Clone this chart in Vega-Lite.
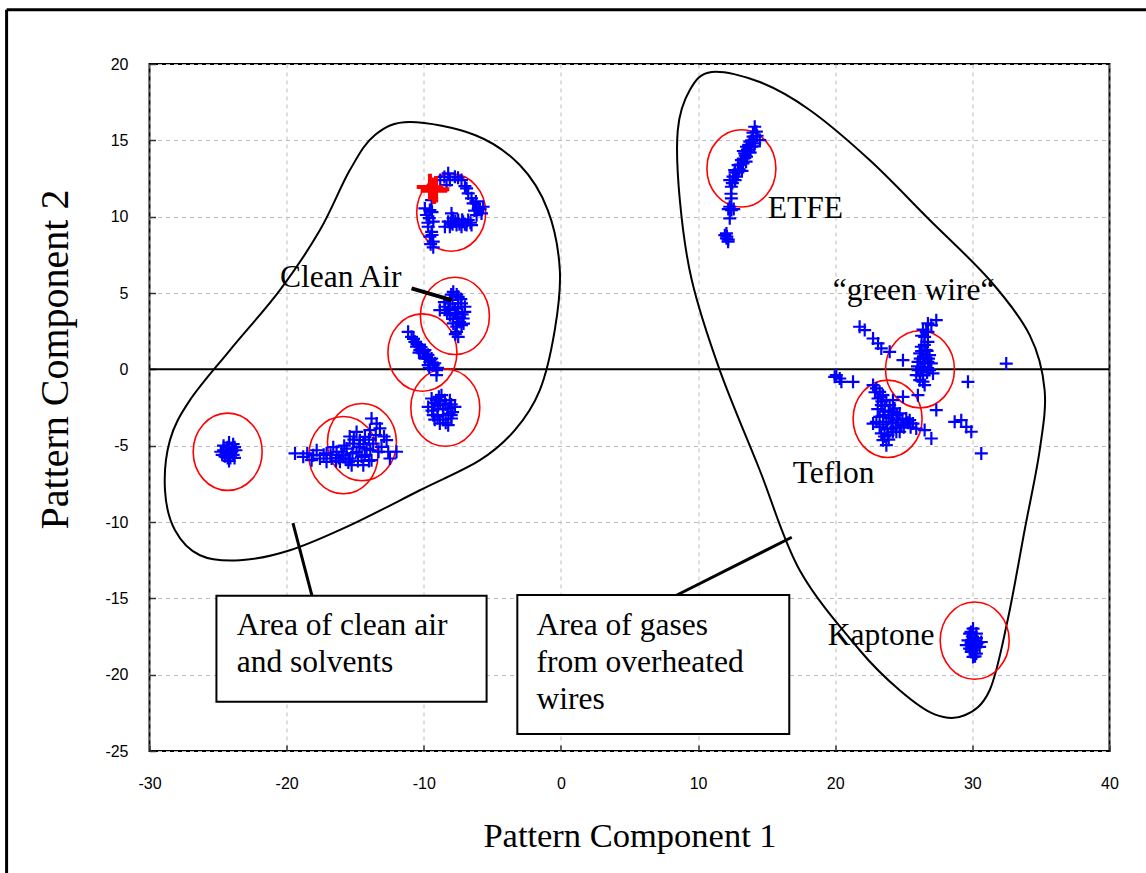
{
  "$schema": "https://vega.github.io/schema/vega-lite/v6.json",
  "width": 960,
  "height": 687,
  "autosize": "none",
  "padding": {"left": 149.5, "top": 64, "right": 36.5, "bottom": 122},
  "background": "white",
  "config": {
    "view": {"stroke": "black", "strokeWidth": 2},
    "axis": {
      "grid": true, "gridDash": [4, 4], "gridColor": "#bdbdbd", "gridWidth": 1,
      "domain": false, "tickSize": -6, "tickColor": "#333333", "tickWidth": 1.5,
      "labelFont": "Liberation Sans", "labelFontSize": 16, "labelColor": "black",
      "labelFlush": false, "labelOverlap": false,
      "labelExpr": "replace(datum.label, '−', '-')",
      "titleFont": "Liberation Serif", "titleFontWeight": "normal", "titleColor": "black"
    }
  },
  "datasets": {
    "blue": [
      {"x":-24.6,"y":-5.0},{"x":-24.2,"y":-4.8},{"x":-23.8,"y":-5.1},{"x":-24.8,"y":-5.4},{"x":-24.4,"y":-5.3},{"x":-24.0,"y":-5.4},{"x":-23.7,"y":-5.3},{"x":-24.5,"y":-5.7},{"x":-24.1,"y":-5.8},{"x":-23.9,"y":-5.6},{"x":-24.3,"y":-5.1},{"x":-24.2,"y":-6.0},
      {"x":-24.4,"y":-5.5},{"x":-24.0,"y":-5.2},{"x":-24.6,"y":-5.3},{"x":-23.9,"y":-4.9},{"x":-24.3,"y":-5.8},{"x":-24.7,"y":-5.6},{"x":-23.8,"y":-5.8},
      {"x":-19.39,"y":-5.51},{"x":-18.79,"y":-5.73},{"x":-18.06,"y":-5.62},{"x":-17.57,"y":-5.84},{"x":-17.81,"y":-5.30},{"x":-17.09,"y":-5.51},{"x":-16.72,"y":-5.84},{"x":-16.36,"y":-5.40},{"x":-15.87,"y":-5.62},{"x":-15.63,"y":-5.19},{"x":-15.39,"y":-5.84},{"x":-15.14,"y":-4.86},{"x":-14.90,"y":-5.40},{"x":-14.66,"y":-4.64},{"x":-14.54,"y":-5.73},{"x":-14.29,"y":-4.42},{"x":-14.17,"y":-5.19},{"x":-13.93,"y":-3.98},{"x":-13.81,"y":-3.22},{"x":-13.44,"y":-3.55},{"x":-13.20,"y":-3.87},{"x":-13.81,"y":-5.95},{"x":-13.69,"y":-4.86},{"x":-13.08,"y":-5.08},{"x":-12.71,"y":-4.64},{"x":-12.59,"y":-5.40},{"x":-11.99,"y":-5.40},{"x":-12.47,"y":-5.84},{"x":-16.11,"y":-6.06},{"x":-17.09,"y":-6.06},{"x":-18.18,"y":-5.95},{"x":-15.26,"y":-6.28},{"x":-14.41,"y":-6.28},{"x":-15.4,"y":-4.4},{"x":-14.9,"y":-4.1},{"x":-16.6,"y":-5.1},{"x":-14.0,"y":-6.0},
      {"x":-16.8,"y":-5.6},{"x":-16.2,"y":-5.8},{"x":-15.7,"y":-5.9},{"x":-15.2,"y":-5.5},{"x":-14.7,"y":-5.1},{"x":-14.3,"y":-5.6},{"x":-13.9,"y":-5.3},{"x":-15.8,"y":-5.0},{"x":-15.1,"y":-4.6},{"x":-14.4,"y":-4.9},{"x":-16.4,"y":-6.0},{"x":-17.3,"y":-5.6},{"x":-18.5,"y":-5.5},{"x":-13.5,"y":-4.3},{"x":-14.0,"y":-4.6},{"x":-13.3,"y":-5.4},{"x":-12.9,"y":-4.4},{"x":-15.5,"y":-6.1},{"x":-14.8,"y":-6.0},{"x":-16.0,"y":-5.4},
      {"x":-11.14,"y":2.46},{"x":-10.89,"y":2.13},{"x":-10.65,"y":1.80},{"x":-10.41,"y":1.59},{"x":-10.29,"y":1.26},{"x":-10.04,"y":1.04},{"x":-9.80,"y":0.82},{"x":-9.56,"y":0.49},{"x":-9.31,"y":0.28},{"x":-9.07,"y":-0.05},{"x":-10.53,"y":1.48},{"x":-9.92,"y":1.26},{"x":-9.43,"y":0.71},{"x":-9.07,"y":-0.38},{"x":-9.68,"y":0.28},
      {"x":-10.75,"y":2.0},{"x":-10.5,"y":1.65},{"x":-10.2,"y":1.45},{"x":-10.0,"y":1.2},{"x":-9.7,"y":0.95},{"x":-9.5,"y":0.65},{"x":-9.2,"y":0.4},{"x":-9.0,"y":0.1},{"x":-9.9,"y":0.7},{"x":-9.6,"y":0.1},{"x":-10.35,"y":1.1},
      {"x":-7.85,"y":5.08},{"x":-7.49,"y":4.75},{"x":-8.10,"y":4.54},{"x":-7.25,"y":4.32},{"x":-8.46,"y":4.10},{"x":-7.73,"y":3.99},{"x":-7.01,"y":3.77},{"x":-8.10,"y":3.55},{"x":-7.49,"y":3.44},{"x":-7.85,"y":3.01},{"x":-7.25,"y":2.90},{"x":-7.61,"y":2.46},{"x":-8.83,"y":3.88},{"x":-7.13,"y":3.33},{"x":-7.49,"y":2.13},
      {"x":-7.6,"y":4.9},{"x":-8.0,"y":4.9},{"x":-7.3,"y":4.6},{"x":-7.9,"y":4.3},{"x":-7.5,"y":4.1},{"x":-8.2,"y":3.9},{"x":-7.0,"y":4.1},{"x":-7.6,"y":3.7},{"x":-7.2,"y":3.6},{"x":-7.9,"y":3.3},{"x":-7.4,"y":3.1},{"x":-7.6,"y":2.8},{"x":-7.7,"y":2.3},{"x":-8.3,"y":3.7},{"x":-7.1,"y":3.0},{"x":-8.5,"y":4.4},
      {"x":-9.43,"y":-1.91},{"x":-8.71,"y":-1.69},{"x":-8.10,"y":-2.02},{"x":-9.68,"y":-2.46},{"x":-8.95,"y":-2.35},{"x":-8.22,"y":-2.56},{"x":-7.73,"y":-2.46},{"x":-9.31,"y":-3.00},{"x":-8.58,"y":-3.00},{"x":-7.98,"y":-3.22},{"x":-8.83,"y":-3.55},{"x":-8.22,"y":-3.66},{"x":-9.07,"y":-2.02},{"x":-8.46,"y":-2.02},
      {"x":-9.2,"y":-2.2},{"x":-8.8,"y":-2.1},{"x":-8.4,"y":-2.3},{"x":-8.0,"y":-2.3},{"x":-9.4,"y":-2.7},{"x":-9.0,"y":-2.6},{"x":-8.6,"y":-2.6},{"x":-8.2,"y":-2.9},{"x":-7.9,"y":-2.8},{"x":-9.0,"y":-3.1},{"x":-8.6,"y":-3.3},{"x":-8.4,"y":-3.5},{"x":-9.2,"y":-3.3},{"x":-8.0,"y":-3.0},{"x":-8.9,"y":-1.8},
      {"x":-9.43,"y":11.09},{"x":-9.56,"y":10.43},{"x":-9.80,"y":10.11},{"x":-9.31,"y":9.67},{"x":-9.68,"y":9.34},{"x":-9.43,"y":9.01},{"x":-9.56,"y":8.69},{"x":-9.31,"y":8.36},{"x":-9.31,"y":7.99},{"x":-9.92,"y":10.54},
      {"x":-8.22,"y":12.84},{"x":-8.10,"y":12.40},{"x":-8.34,"y":12.07},{"x":-7.73,"y":12.62},{"x":-7.25,"y":12.40},{"x":-8.8,"y":12.4},
      {"x":-6.88,"y":11.85},{"x":-6.76,"y":11.52},{"x":-6.52,"y":11.20},{"x":-6.40,"y":10.87},{"x":-6.03,"y":10.54},{"x":-5.67,"y":10.65},{"x":-5.79,"y":10.21},{"x":-6.15,"y":10.10},
      {"x":-8.22,"y":9.67},{"x":-7.86,"y":9.89},{"x":-7.49,"y":9.78},{"x":-7.13,"y":9.67},{"x":-6.76,"y":9.78},{"x":-7.61,"y":9.45},{"x":-7.25,"y":9.34},{"x":-8.10,"y":9.34},{"x":-7.98,"y":10.21},{"x":-6.52,"y":9.45},{"x":-8.46,"y":9.34},{"x":-6.88,"y":9.45},
      {"x":-9.6,"y":9.9},{"x":-9.4,"y":10.3},{"x":-9.7,"y":9.6},{"x":-9.4,"y":8.8},{"x":-9.5,"y":8.2},{"x":-7.9,"y":9.5},{"x":-7.4,"y":9.5},{"x":-7.0,"y":9.5},{"x":-6.6,"y":9.6},{"x":-7.7,"y":9.7},{"x":-7.2,"y":9.8},{"x":-8.0,"y":9.6},{"x":-6.3,"y":10.4},{"x":-6.2,"y":11.0},{"x":-7.0,"y":12.0},{"x":-7.5,"y":12.55},{"x":-8.5,"y":12.6},{"x":-5.9,"y":10.5},
      {"x":14.13,"y":15.89},{"x":14.25,"y":15.57},{"x":14.01,"y":15.24},{"x":13.77,"y":14.91},{"x":13.53,"y":14.58},{"x":13.89,"y":14.58},{"x":13.40,"y":14.15},{"x":13.65,"y":14.26},{"x":13.16,"y":13.71},{"x":12.92,"y":13.38},{"x":13.28,"y":13.49},{"x":12.67,"y":13.05},{"x":12.55,"y":12.62},{"x":12.31,"y":12.40},{"x":12.80,"y":12.62},{"x":12.43,"y":11.96},{"x":12.43,"y":11.20},{"x":12.31,"y":10.65},{"x":12.43,"y":10.43},{"x":12.31,"y":9.89},{"x":12.07,"y":8.90},{"x":12.07,"y":8.58},{"x":11.95,"y":8.79},{"x":12.19,"y":8.36},{"x":14.50,"y":15.02},{"x":14.13,"y":14.80},{"x":13.53,"y":13.93},
      {"x":12.5,"y":12.2},{"x":12.7,"y":12.9},{"x":12.9,"y":12.9},{"x":13.0,"y":13.1},{"x":13.1,"y":13.4},{"x":13.3,"y":13.8},{"x":13.45,"y":14.0},{"x":13.6,"y":14.4},{"x":13.7,"y":14.7},{"x":13.9,"y":15.0},{"x":14.0,"y":15.5},{"x":14.3,"y":15.3},{"x":13.8,"y":14.2},{"x":13.5,"y":13.6},{"x":13.2,"y":13.0},{"x":12.7,"y":12.4},{"x":12.4,"y":11.5},{"x":12.6,"y":10.5},{"x":12.2,"y":10.5},{"x":12.1,"y":8.7},{"x":12.2,"y":8.5},{"x":14.1,"y":14.6},{"x":13.3,"y":14.3},
      {"x":21.78,"y":2.79},{"x":22.15,"y":2.57},{"x":22.76,"y":2.02},{"x":23.12,"y":1.70},{"x":23.36,"y":1.37},{"x":23.97,"y":1.15},{"x":24.94,"y":0.60},{"x":27.37,"y":3.22},{"x":27.01,"y":2.90},{"x":26.76,"y":2.46},{"x":32.47,"y":0.38},{"x":20.08,"y":-0.38},{"x":20.33,"y":-0.60},{"x":20.45,"y":-0.82},{"x":21.30,"y":-0.82},{"x":19.96,"y":-0.49},{"x":29.68,"y":-0.82},{"x":27.13,"y":-0.27},{"x":27.37,"y":-2.67},{"x":28.71,"y":-3.44},{"x":29.19,"y":-3.33},{"x":29.56,"y":-3.77},{"x":29.92,"y":-4.09},{"x":30.65,"y":-5.51},{"x":26.52,"y":-3.98},{"x":27.01,"y":-4.53},{"x":24.94,"y":-1.80},{"x":26.03,"y":-1.69},{"x":22.76,"y":-3.55},{"x":24.70,"y":-4.09},{"x":25.43,"y":-3.33},
      {"x":26.76,"y":3.01},{"x":26.64,"y":2.46},{"x":26.52,"y":2.13},{"x":26.76,"y":1.80},{"x":26.28,"y":1.48},{"x":26.64,"y":1.26},{"x":26.16,"y":1.04},{"x":26.88,"y":0.93},{"x":26.40,"y":0.71},{"x":26.04,"y":0.49},{"x":26.76,"y":0.49},{"x":26.52,"y":0.17},{"x":26.04,"y":-0.05},{"x":26.88,"y":-0.05},{"x":26.40,"y":-0.38},{"x":26.16,"y":-0.71},{"x":26.52,"y":-1.03},{"x":25.91,"y":-0.38},{"x":27.01,"y":0.39},
      {"x":26.3,"y":2.2},{"x":26.5,"y":1.6},{"x":26.3,"y":1.2},{"x":26.6,"y":0.9},{"x":26.2,"y":0.7},{"x":26.5,"y":0.4},{"x":26.3,"y":0.1},{"x":26.7,"y":-0.2},{"x":26.2,"y":-0.4},{"x":26.4,"y":-0.8},{"x":26.7,"y":1.2},{"x":26.4,"y":2.6},{"x":26.8,"y":0.7},{"x":26.0,"y":0.2},
      {"x":22.76,"y":-1.03},{"x":23.00,"y":-1.25},{"x":23.24,"y":-1.47},{"x":23.48,"y":-1.69},{"x":23.12,"y":-1.91},{"x":23.73,"y":-2.02},{"x":23.36,"y":-2.35},{"x":23.97,"y":-2.35},{"x":24.33,"y":-2.56},{"x":23.61,"y":-2.78},{"x":24.70,"y":-2.89},{"x":24.09,"y":-3.00},{"x":23.24,"y":-3.11},{"x":25.18,"y":-3.22},{"x":24.46,"y":-3.33},{"x":23.73,"y":-3.44},{"x":25.67,"y":-3.55},{"x":24.82,"y":-3.66},{"x":23.24,"y":-3.77},{"x":24.09,"y":-3.88},{"x":25.91,"y":-3.88},{"x":23.36,"y":-4.20},{"x":23.85,"y":-4.31},{"x":24.46,"y":-4.09},{"x":23.48,"y":-4.64},{"x":23.73,"y":-4.97},{"x":23.00,"y":-3.44},{"x":24.21,"y":-2.02},
      {"x":23.3,"y":-1.8},{"x":23.6,"y":-2.4},{"x":23.9,"y":-2.7},{"x":24.2,"y":-2.8},{"x":24.5,"y":-3.0},{"x":24.9,"y":-3.3},{"x":25.3,"y":-3.5},{"x":23.5,"y":-3.0},{"x":23.9,"y":-3.2},{"x":24.2,"y":-3.5},{"x":24.6,"y":-3.5},{"x":25.0,"y":-3.8},{"x":23.5,"y":-3.6},{"x":23.8,"y":-3.9},{"x":24.2,"y":-4.1},{"x":23.6,"y":-4.4},{"x":23.9,"y":-4.6},{"x":24.4,"y":-3.8},{"x":23.1,"y":-2.6},{"x":25.5,"y":-3.8},{"x":23.4,"y":-2.1},{"x":22.9,"y":-1.5},
      {"x":30.05,"y":-16.98},{"x":29.80,"y":-17.31},{"x":30.29,"y":-17.31},{"x":29.68,"y":-17.75},{"x":30.17,"y":-17.75},{"x":30.65,"y":-17.86},{"x":29.56,"y":-18.07},{"x":30.05,"y":-18.18},{"x":30.53,"y":-18.18},{"x":29.92,"y":-18.51},{"x":30.29,"y":-18.62},{"x":30.05,"y":-18.84},
      {"x":30.0,"y":-17.5},{"x":30.3,"y":-17.6},{"x":29.9,"y":-17.9},{"x":30.3,"y":-18.0},{"x":30.1,"y":-18.4},{"x":29.8,"y":-18.3},{"x":30.4,"y":-17.9},{"x":29.9,"y":-17.2},{"x":30.2,"y":-18.8}
    ],
    "red": [
      {"x":-9.26,"y":11.7},{"x":-9.55,"y":11.95},{"x":-9.1,"y":11.8}
    ],
    "circles": [
      {"x":-8.0,"y":10.27},{"x":-7.73,"y":3.5},{"x":-10.1,"y":1.1},{"x":-8.43,"y":-2.51},{"x":-24.3,"y":-5.4},{"x":-15.86,"y":-5.62},{"x":-14.51,"y":-4.77},{"x":13.16,"y":13.16},{"x":26.18,"y":0.0},{"x":23.82,"y":-3.24},{"x":30.17,"y":-17.77}
    ],
    "outline": [
      {"shape":"L","i":0,"x":-11.01,"y":16.20},{"shape":"L","i":1,"x":-6.28,"y":15.35},{"shape":"L","i":2,"x":-3.00,"y":13.38},{"shape":"L","i":3,"x":-0.96,"y":10.43},{"shape":"L","i":4,"x":-0.08,"y":6.50},{"shape":"L","i":5,"x":-0.45,"y":2.57},{"shape":"L","i":6,"x":-1.54,"y":-1.36},{"shape":"L","i":7,"x":-3.36,"y":-3.98},{"shape":"L","i":8,"x":-5.91,"y":-5.95},{"shape":"L","i":9,"x":-10.28,"y":-7.92},{"shape":"L","i":10,"x":-15.39,"y":-10.22},{"shape":"L","i":11,"x":-19.76,"y":-11.85},{"shape":"L","i":12,"x":-23.40,"y":-12.51},{"shape":"L","i":13,"x":-26.32,"y":-12.18},{"shape":"L","i":14,"x":-28.14,"y":-10.54},{"shape":"L","i":15,"x":-28.87,"y":-7.92},{"shape":"L","i":16,"x":-28.51,"y":-4.64},{"shape":"L","i":17,"x":-27.05,"y":-2.02},{"shape":"L","i":18,"x":-24.13,"y":1.26},{"shape":"L","i":19,"x":-20.49,"y":5.19},{"shape":"L","i":20,"x":-17.57,"y":9.12},{"shape":"L","i":21,"x":-15.39,"y":13.05},{"shape":"L","i":22,"x":-13.56,"y":15.35},
      {"shape":"R","i":0,"x":11.00,"y":19.48},{"shape":"R","i":1,"x":14.50,"y":18.82},{"shape":"R","i":2,"x":18.14,"y":16.99},{"shape":"R","i":3,"x":22.51,"y":13.71},{"shape":"R","i":4,"x":26.89,"y":9.78},{"shape":"R","i":5,"x":31.26,"y":5.85},{"shape":"R","i":6,"x":34.18,"y":2.24},{"shape":"R","i":7,"x":35.27,"y":-1.36},{"shape":"R","i":8,"x":34.91,"y":-5.29},{"shape":"R","i":9,"x":33.81,"y":-10.54},{"shape":"R","i":10,"x":32.57,"y":-16.44},{"shape":"R","i":11,"x":31.26,"y":-21.02},{"shape":"R","i":12,"x":29.44,"y":-22.66},{"shape":"R","i":13,"x":27.25,"y":-22.60},{"shape":"R","i":14,"x":24.70,"y":-21.02},{"shape":"R","i":15,"x":21.79,"y":-18.40},{"shape":"R","i":16,"x":17.41,"y":-13.16},{"shape":"R","i":17,"x":14.50,"y":-6.61},{"shape":"R","i":18,"x":11.58,"y":-0.05},{"shape":"R","i":19,"x":9.54,"y":5.85},{"shape":"R","i":20,"x":8.67,"y":11.09},{"shape":"R","i":21,"x":8.52,"y":15.67},{"shape":"R","i":22,"x":9.40,"y":18.30}
    ],
    "zeroline": [{"x":-30,"y":0,"x2":40,"y2":0}],
    "pointers": [
      {"x":-19.54,"y":-10.08,"x2":-18.16,"y2":-14.8},
      {"x":8.43,"y":-14.8,"x2":16.83,"y2":-11.0}
    ],
    "cleanpointer": [{"x":-10.89,"y":5.30,"x2":-7.97,"y2":4.53}],
    "frame": [
      {"x":-40.42,"y":23.55,"x2":-40.42,"y2":-34},
      {"x":-40.42,"y":23.55,"x2":43.5,"y2":23.55}
    ],
    "boxes": [
      {"x":-25.12,"y":-14.83,"x2":-5.42,"y2":-21.77},
      {"x":-3.18,"y":-14.78,"x2":16.65,"y2":-23.89}
    ],
    "boxtext": [
      {"x":-23.64,"y":-17.42,"label":"Area of clean air\nand solvents"},
      {"x":-1.78,"y":-17.42,"label":"Area of gases\nfrom overheated\nwires"}
    ],
    "labels": [
      {"x":-20.49,"y":5.39,"label":"Clean Air"},
      {"x":15.08,"y":9.91,"label":"ETFE"},
      {"x":19.82,"y":4.53,"label":"“green wire“"},
      {"x":16.90,"y":-7.46,"label":"Teflon"},
      {"x":19.45,"y":-18.07,"label":"Kaptone"}
    ]
  },
  "encoding": {
    "x": {
      "field": "x", "type": "quantitative",
      "scale": {"domain": [-30, 40], "nice": false, "zero": false},
      "axis": {"values": [-30, -20, -10, 0, 10, 20, 30, 40], "labelPadding": 30, "title": "Pattern Component 1", "titleFontSize": 34.5, "titleY": 95, "titleBaseline": "alphabetic"}
    },
    "y": {
      "field": "y", "type": "quantitative",
      "scale": {"domain": [-25, 20], "nice": false, "zero": false},
      "axis": {"values": [-25, -20, -15, -10, -5, 0, 5, 10, 15, 20], "labelPadding": 27.5, "title": "Pattern Component 2", "titleFontSize": 40, "titleX": -94.5, "titleY": 295, "titleAngle": 270, "titleBaseline": "middle", "titleAlign": "center"}
    }
  },
  "layer": [
    {"data": {"name": "zeroline"}, "mark": {"type": "rule", "color": "black", "strokeWidth": 2}, "encoding": {"x2": {"field": "x2"}, "y2": {"field": "y2"}}},
    {"data": {"name": "outline"}, "mark": {"type": "line", "interpolate": "cardinal-closed", "color": "black", "strokeWidth": 2}, "encoding": {"detail": {"field": "shape"}, "order": {"field": "i", "type": "quantitative"}}},
    {"data": {"name": "circles"}, "mark": {"type": "point", "shape": "M-1,0A1,1.12,0,1,1,1,0A1,1.12,0,1,1,-1,0Z", "filled": false, "size": 4761, "color": "#ff0000", "strokeWidth": 1.6, "opacity": 1}},
    {"data": {"name": "blue"}, "mark": {"type": "point", "shape": "M-1,0H1M0,-1V1", "filled": false, "size": 169, "color": "#0000ff", "strokeWidth": 2.2, "opacity": 1}},
    {"data": {"name": "red"}, "mark": {"type": "point", "shape": "M-1,0H1M0,-1V1", "filled": false, "size": 700, "color": "#ff0000", "strokeWidth": 4, "opacity": 1}},
    {"data": {"name": "pointers"}, "mark": {"type": "rule", "color": "black", "strokeWidth": 3}, "encoding": {"x2": {"field": "x2"}, "y2": {"field": "y2"}}},
    {"data": {"name": "cleanpointer"}, "mark": {"type": "rule", "color": "black", "strokeWidth": 4}, "encoding": {"x2": {"field": "x2"}, "y2": {"field": "y2"}}},
    {"data": {"name": "frame"}, "mark": {"type": "rule", "color": "black", "strokeWidth": 3}, "encoding": {"x2": {"field": "x2"}, "y2": {"field": "y2"}}},
    {"data": {"name": "boxes"}, "mark": {"type": "rect", "fill": "white", "stroke": "black", "strokeWidth": 2}, "encoding": {"x2": {"field": "x2"}, "y2": {"field": "y2"}}},
    {"data": {"name": "boxtext"}, "mark": {"type": "text", "font": "Liberation Serif", "fontSize": 31.5, "align": "left", "baseline": "alphabetic", "lineBreak": "\n", "lineHeight": 36.7, "color": "black"}, "encoding": {"text": {"field": "label"}}},
    {"data": {"name": "labels"}, "mark": {"type": "text", "font": "Liberation Serif", "fontSize": 31.5, "align": "left", "baseline": "alphabetic", "color": "black"}, "encoding": {"text": {"field": "label"}}}
  ]
}
